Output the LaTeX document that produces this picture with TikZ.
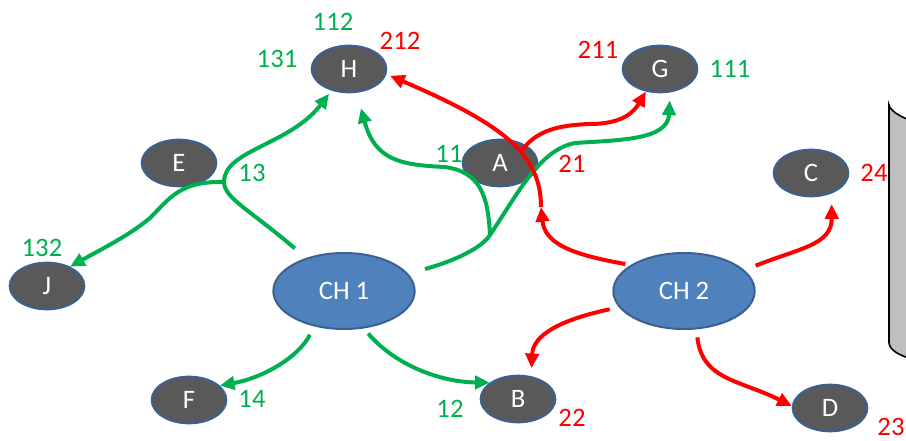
\documentclass[tikz,border=0pt]{standalone}
\usepackage{fontspec}
\setmainfont{Carlito}
\usepackage{tikz}
\usetikzlibrary{arrows.meta}
\usetikzlibrary{shapes.geometric}
\definecolor{nodegray}{HTML}{595959}
\definecolor{chblue}{HTML}{4F81BD}
\definecolor{rimblue}{HTML}{3B6092}
\definecolor{routegreen}{HTML}{00B050}
\definecolor{routered}{HTML}{FF0000}
\definecolor{drumgray}{HTML}{BFBFBF}
\tikzset{
	leaf/.style={ellipse,draw=rimblue,fill=nodegray,line width=1.5pt,minimum width=56pt,minimum height=35pt,inner sep=0pt,text=white},
	chnode/.style={ellipse,draw=rimblue,fill=chblue,line width=1.5pt,minimum width=106pt,minimum height=57pt,inner sep=0pt,text=white},
	gr/.style={routegreen,line width=3pt,-{Triangle[length=11pt,width=10pt]}},
	rd/.style={routered,line width=3pt,-{Triangle[length=11pt,width=10pt]}},
	glab/.style={text=routegreen,inner sep=0pt},
	rlab/.style={text=routered,inner sep=0pt}
}

\begin{document}
\begin{tikzpicture}[x=0.75pt,y=-0.75pt,font=\fontsize{20}{24}\selectfont]
		\useasboundingbox (0,0) rectangle (906,441);
		\draw[fill=drumgray,line width=1.2pt] (912,121) .. controls (898,116) and (890,110) .. (889,105) -- (889,343) .. controls (890,350) and (898,355) .. (912,359);
		
		% nodes
		\node[leaf] (h) at (349,69) {H};
		\node[leaf] (e) at (179,163) {E};
		\node[leaf] (g) at (660,69) {G};
		\node[leaf] (a) at (500,163) {A};
		\node[leaf] (c) at (811,173) {C};
		\node[leaf] (j) at (47,286) {J};
		\node[leaf] (f) at (189,400) {F};
		\node[leaf] (b) at (518,399) {B};
		\node[leaf] (d) at (830,408) {D};
		\node[chnode] (ch1) at (344,291) {CH 1};
		\node[chnode] (ch2) at (684,291) {CH 2};
		
		% CH 1 routes
		\draw[gr,shorten <=7pt] (ch1.230) .. controls (298,358) and (262,378) .. (f.25);
		\draw[gr,shorten <=5pt] (ch1.298) .. controls (395,365) and (440,382) .. (b.150);
		\draw[gr,shorten <=11pt,shorten >=3pt] (ch1.139) .. controls (250,210) and (224,198) .. (224,182) coordinate (e13) .. controls (224,150) and (290,145) .. (h.231);
		\draw[gr] (e13) .. controls (180,181) and (170,198) .. (150,218) .. controls (130,235) and (100,250) .. (j.40);
		\draw[gr,shorten <=13pt,shorten >=6pt] (ch1.15) .. controls (450,262) and (480,250) .. (490,235) coordinate (jA) .. controls (520,190) and (540,150) .. (575,143) .. controls (620,140) and (668,140) .. (g.293);
		\draw[gr,shorten >=12pt] (jA) .. controls (488,195) and (480,172) .. (445,167) .. controls (400,165) and (375,160) .. (h.288);
		
		% CH 2 routes
		\coordinate (a21) at (541,207);
		\draw[rd,shorten <=4pt] (ch2.154) .. controls (575,255) and (545,245) .. (a21);
		\draw[rd,shorten >=3pt] (a21) .. controls (541,155) and (505,125) .. (h.352) coordinate[pos=0.4] (r2);
		\draw[rd] (r2) .. controls (535,130) and (560,125) .. (590,124) .. controls (625,124) and (635,110) .. (g.238);
		\draw[rd,shorten <=9pt,shorten >=8pt] (ch2.19) .. controls (800,248) and (832,245) .. (c.315);
		\draw[rd,shorten <=7pt,shorten >=6pt] (ch2.194) .. controls (560,320) and (533,335) .. (b.60);
		\draw[rd,shorten <=6pt] (ch2.288) .. controls (702,380) and (740,380) .. (d.177);
		
		% labels
		\node[glab] (l112) at (333,22) {112};
		\node[rlab] (l212) at (400,41) {212};
		\node[glab] (l131) at (277,59) {131};
		\node[glab] (l13) at (252,173) {13};
		\node[glab] (l11) at (449,154) {11};
		\node[rlab] (l21) at (572,164) {21};
		\node[rlab] (l211) at (598,50) {211};
		\node[glab] (l111) at (730,69) {111};
		\node[rlab] (l24) at (874,173) {24};
		\node[glab] (l132) at (42,248) {132};
		\node[glab] (l14) at (252,399) {14};
		\node[glab] (l12) at (450,409) {12};
		\node[rlab] (l22) at (572,418) {22};
		\node[rlab] (l23) at (891,427) {23};
		
\end{tikzpicture}
\end{document}
